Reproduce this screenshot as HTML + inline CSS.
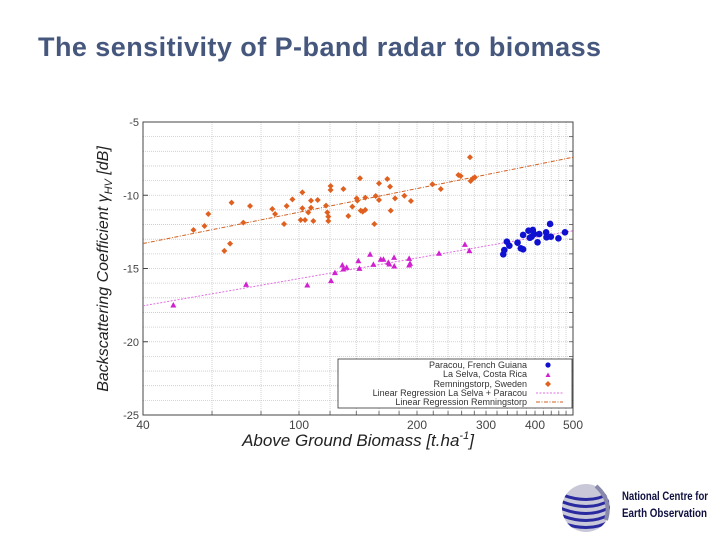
<!DOCTYPE html>
<html><head><meta charset="utf-8"><style>
html,body{margin:0;padding:0;background:#fff;}
body{width:720px;height:540px;position:relative;overflow:hidden;font-family:"Liberation Sans",sans-serif;}
#title{position:absolute;left:38px;top:32px;font-size:27px;font-weight:bold;color:#46577e;white-space:nowrap;letter-spacing:0.45px;}
</style></head><body>
<div id="title">The sensitivity of P-band radar to biomass</div>
<svg id="chart" width="720" height="540" style="position:absolute;left:0;top:0">
<g id="grid"></g>
<g id="axes"></g>
<g id="marks"></g>
<text x="108" y="269" transform="rotate(-90 108 269)" text-anchor="middle" font-size="16" font-style="italic" fill="#222">Backscattering Coefficient γ<tspan font-size="11" dy="4">HV</tspan><tspan dy="-4"> [dB]</tspan></text>
<text x="358" y="446" text-anchor="middle" font-size="17" font-style="italic" fill="#222">Above Ground Biomass [t.ha<tspan font-size="11" dy="-7">-1</tspan><tspan dy="7">]</tspan></text>
<g>
<rect x="338" y="359" width="234" height="49" fill="#fff" stroke="#333" stroke-width="0.8"/>
<g font-size="9" fill="#333" text-anchor="end">
<text x="527" y="368">Paracou, French Guiana</text>
<text x="527" y="377">La Selva, Costa Rica</text>
<text x="527" y="387">Remningstorp, Sweden</text>
<text x="527" y="396">Linear Regression La Selva + Paracou</text>
<text x="527" y="405">Linear Regression Remningstorp</text>
</g>
<circle cx="548" cy="365" r="2.6" fill="#1010d0"/>
<path d="M545.5,377 L548,372.5 L550.5,377Z" fill="#d020d0"/>
<path d="M548,381 L551,384 L548,387 L545,384Z" fill="#e06020"/>
<line x1="536" y1="393" x2="563" y2="393" stroke="#e070e0" stroke-dasharray="2,1.5"/>
<line x1="536" y1="402" x2="563" y2="402" stroke="#d06020" stroke-dasharray="4,1.5,1,1.5"/>
</g>
<g>
<defs><clipPath id="gc"><circle cx="586" cy="508" r="24"/></clipPath></defs>
<circle cx="586" cy="508" r="24" fill="#c8c8d8"/>
<g clip-path="url(#gc)" stroke="#2a2aa0" stroke-width="3" fill="none">
<path d="M560,494 Q590,506 612,492"/><path d="M560,501 Q590,513 612,499"/><path d="M560,508 Q590,520 612,506"/><path d="M560,515 Q590,527 612,513"/><path d="M560,522 Q590,534 612,520"/><path d="M560,529 Q590,540 612,527"/>
</g>
<path d="M596,486 Q612,500 606,520" stroke="#8888aa" stroke-width="4" fill="none"/>
<text x="622" y="500" font-size="12" font-weight="bold" fill="#101040" textLength="86" lengthAdjust="spacingAndGlyphs">National Centre for</text>
<text x="622" y="517" font-size="12" font-weight="bold" fill="#101040" textLength="85" lengthAdjust="spacingAndGlyphs">Earth  Observation</text>
</g>
</svg>
<script>
const xTicks=[40,100,200,300,400,500];
const yTicks=[-5,-10,-15,-20,-25];
const paracouX=[332,334,339,344,361,368,373,373,385,388,395,398,406,410,427,428,437,439,459,477,392];
const paracouY=[-14.03,-13.74,-13.17,-13.44,-13.24,-13.62,-12.71,-13.69,-12.42,-12.9,-12.37,-12.65,-13.21,-12.65,-12.53,-12.87,-11.96,-12.83,-12.94,-12.53,-12.83];
const laselvaX=[47.8,73.3,105,120.7,123.5,129,129.8,132.3,141.7,142.6,151.8,154.8,161.6,164.2,169,170,174.8,175,191,191,192,227.6,265,272];
const laselvaY=[-17.49,-16.08,-16.13,-15.83,-15.28,-14.76,-15.03,-14.92,-14.47,-14.99,-14.03,-14.72,-14.37,-14.37,-14.58,-14.69,-14.24,-14.83,-14.31,-14.76,-14.65,-13.96,-13.35,-13.78];
const remX=[53.8,57.4,58.7,64.5,66.7,67.3,72.1,75,85.5,86.9,91.6,93,96.2,102,102,101,103.6,105.6,107.3,107.3,108.8,111.6,117.2,118.1,118.8,118.8,120.4,120.4,129.8,133.6,136.8,140.3,140.9,143.1,143.7,145.4,147.6,147.6,155.7,156.9,160,160,168,170.7,171.4,175.8,185.7,193,218.9,230,255,258.5,273,274,278,281];
const remY=[-12.37,-12.1,-11.28,-13.8,-13.3,-10.5,-11.87,-10.73,-10.94,-11.28,-11.96,-10.73,-10.28,-9.8,-10.89,-11.69,-11.69,-11.17,-10.37,-10.85,-11.76,-10.32,-10.71,-11.17,-11.46,-11.76,-9.37,-9.64,-9.57,-11.42,-10.78,-10.21,-10.37,-8.84,-11.05,-11.12,-11.0,-10.16,-11.96,-10.05,-9.19,-10.32,-8.89,-9.41,-11.05,-10.21,-10.03,-10.39,-9.25,-9.57,-8.62,-8.69,-7.41,-9.03,-8.84,-8.78];
const regLS=[-25.03,4.67];
const regR=[-21.9,5.37];

const L=143,R=573,T=122,B=415,XMIN=40,XMAX=500,YMIN=-25,YMAX=-5;
function sx(v){return L+(Math.log10(v)-Math.log10(XMIN))/(Math.log10(XMAX)-Math.log10(XMIN))*(R-L);}
function sy(v){return B-(v-YMIN)/(YMAX-YMIN)*(B-T);}
const NS="http://www.w3.org/2000/svg";
function mk(tag,parent,attrs){const e=document.createElementNS(NS,tag);for(const k in attrs)e.setAttribute(k,attrs[k]);parent.appendChild(e);return e;}
const grid=document.getElementById('grid'),axes=document.getElementById('axes'),marks=document.getElementById('marks');
for(let v=YMIN+1;v<YMAX;v++){const l=mk('line',grid,{x1:L,x2:R,y1:sy(v),y2:sy(v),stroke:'#c8c8c8','stroke-width':0.8,'stroke-dasharray':'1,1'});


mk('line',axes,{x1:R-4,x2:R,y1:sy(v),y2:sy(v),stroke:'#555','stroke-width':0.8});}
const xg=[60,80];for(let v=100;v<500;v+=20)xg.push(v);
xg.forEach(v=>{const l=mk('line',grid,{x1:sx(v),x2:sx(v),y1:T,y2:B,stroke:'#c8c8c8','stroke-width':0.8,'stroke-dasharray':'1,1'});


mk('line',axes,{x1:sx(v),x2:sx(v),y1:B-4,y2:B,stroke:'#555','stroke-width':0.8});});
mk('rect',axes,{x:L,y:T,width:R-L,height:B-T,fill:'none',stroke:'#444','stroke-width':1});
yTicks.forEach(v=>{const t=mk('text',axes,{x:L-4,y:sy(v)+4,'text-anchor':'end','font-size':11,fill:'#444'});t.textContent=v;


mk('line',axes,{x1:L,x2:L+5,y1:sy(v),y2:sy(v),stroke:'#444'});});
xTicks.forEach(v=>{const t=mk('text',axes,{x:sx(v),y:B+14,'text-anchor':'middle','font-size':12,fill:'#444'});t.textContent=v;

});
[[regR,'#d06020','4,1.5,1,1.5','regression-remningstorp'],[regLS,'#e070e0','2,1.5','regression-laselva-paracou']].forEach(([c,col,da,nm])=>{
const y0=c[0]+c[1]*Math.log10(XMIN),y1=c[0]+c[1]*Math.log10(XMAX);
const l=mk('line',marks,{x1:sx(XMIN),y1:sy(y0),x2:sx(XMAX),y2:sy(y1),stroke:col,'stroke-width':1,'stroke-dasharray':da});

});
remX.forEach((x,i)=>{const cx=sx(x),cy=sy(remY[i]);const p=mk('path',marks,{d:`M${cx},${cy-3}L${cx+3},${cy}L${cx},${cy+3}L${cx-3},${cy}Z`,fill:'#e06020'});

});
laselvaX.forEach((x,i)=>{const cx=sx(x),cy=sy(laselvaY[i]);const p=mk('path',marks,{d:`M${cx-3},${cy+2.5}L${cx},${cy-3}L${cx+3},${cy+2.5}Z`,fill:'#d020d0'});

});
paracouX.forEach((x,i)=>{const p=mk('circle',marks,{cx:sx(x),cy:sy(paracouY[i]),r:3.3,fill:'#1010d0'});

});
</script>
</body></html>
